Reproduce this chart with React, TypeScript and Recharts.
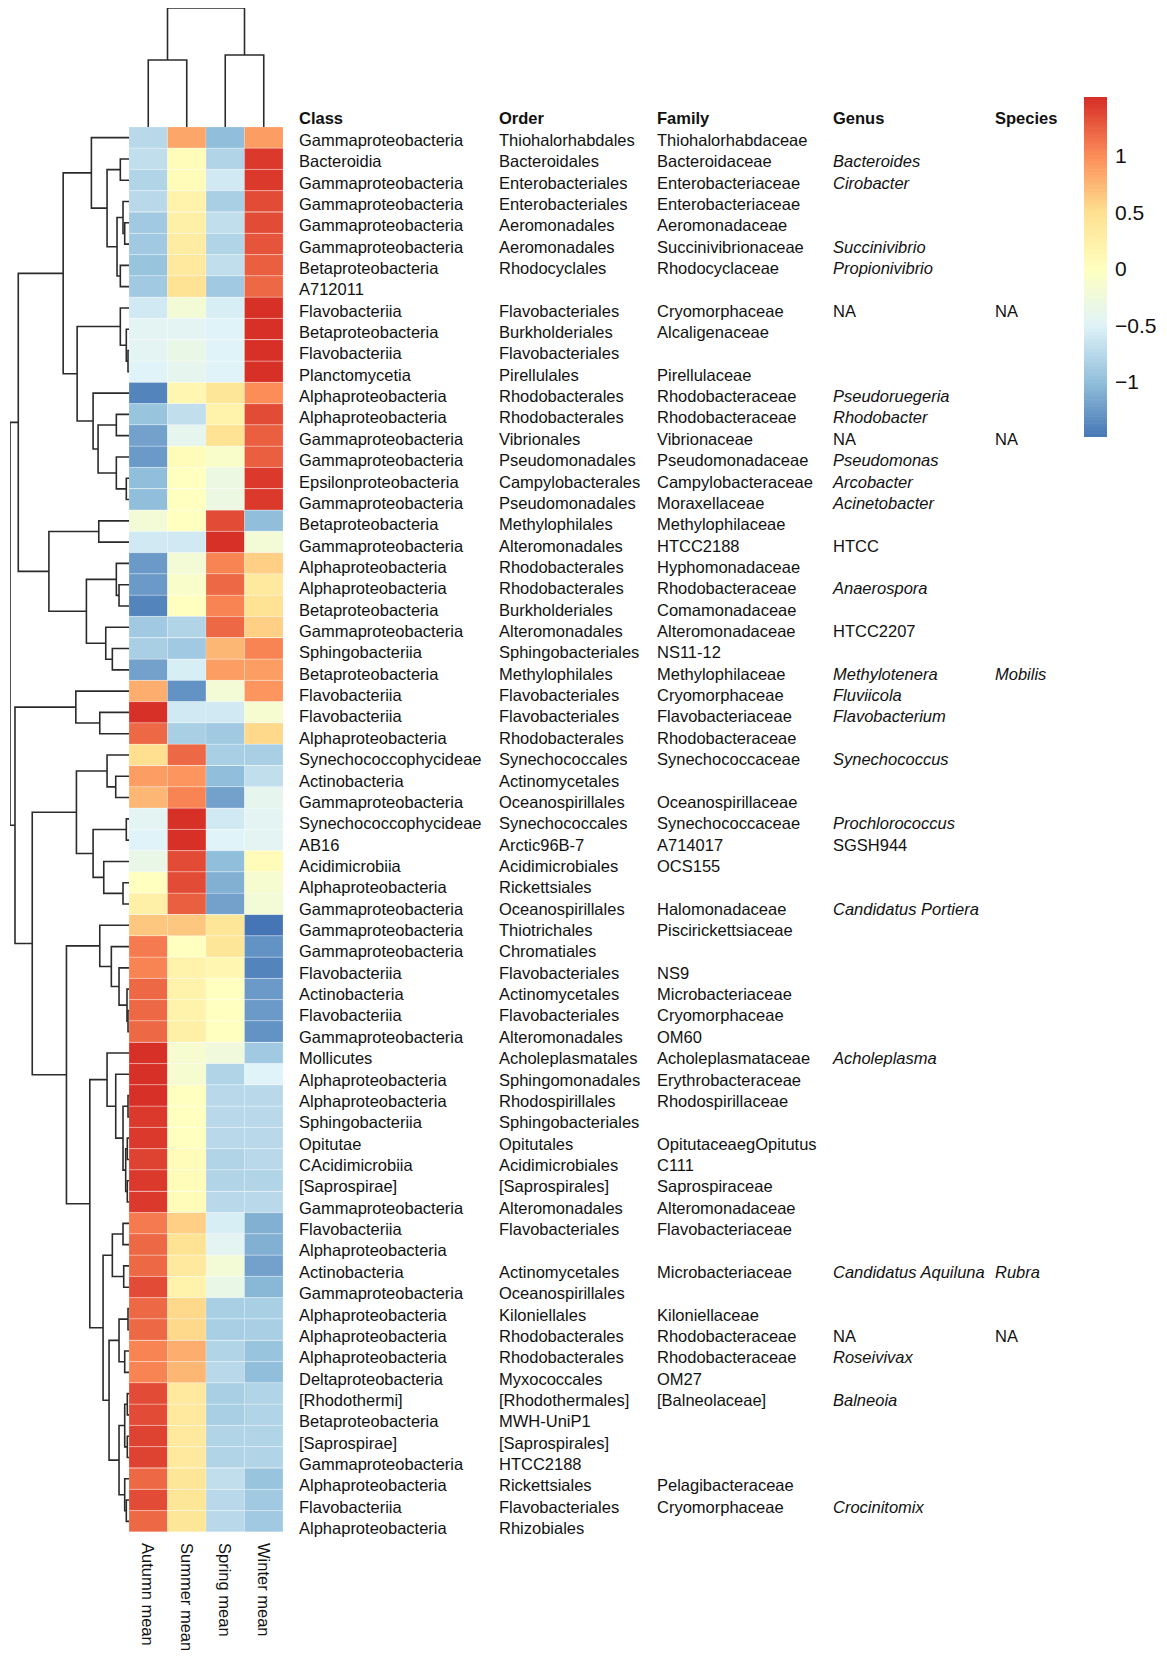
import React from "react";
import {
  BarChart,
  Bar,
  Cell,
  XAxis,
  YAxis,
  ComposedChart,
  Line,
  Scatter,
} from "recharts";

// columns of the heatmap (left to right)
const columns = ["Autumn mean", "Summer mean", "Spring mean", "Winter mean"];

// row-scaled values (rows top to bottom)
const autumn = [
  -0.75, -0.7, -0.8, -0.75, -0.9, -0.9, -0.95, -0.9, -0.6, -0.45, -0.45, -0.5,
  -1.4, -0.95, -1.2, -1.25, -1.0, -1.0, -0.2, -0.6, -1.25, -1.25, -1.4, -0.9,
  -0.85, -1.2, 0.8, 1.5, 1.2, 0.5, 0.9, 0.75, -0.45, -0.5, -0.35, 0.0, 0.25,
  0.65, 1.1, 1.05, 1.2, 1.2, 1.2, 1.5, 1.5, 1.5, 1.45, 1.45, 1.4, 1.45, 1.45,
  1.1, 1.2, 1.2, 1.35, 1.2, 1.2, 1.05, 1.05, 1.35, 1.35, 1.4, 1.4, 1.2, 1.35,
  1.2,
];
const summer = [
  0.85, 0.05, 0.05, 0.2, 0.25, 0.3, 0.35, 0.45, -0.2, -0.45, -0.35, -0.4, 0.15,
  -0.7, -0.4, 0.05, 0.0, 0.0, 0.0, -0.6, -0.2, -0.1, 0.0, -0.8, -0.9, -0.55,
  -1.3, -0.6, -0.85, 1.2, 0.95, 1.05, 1.5, 1.5, 1.35, 1.35, 1.25, 0.65, 0.0,
  0.2, 0.2, 0.2, 0.25, -0.15, -0.15, 0.0, 0.0, 0.0, 0.05, 0.05, 0.05, 0.6,
  0.45, 0.35, 0.2, 0.55, 0.55, 0.8, 0.75, 0.35, 0.35, 0.35, 0.35, 0.4, 0.4,
  0.4,
];
const spring = [
  -1.0, -0.8, -0.6, -0.85, -0.7, -0.8, -0.7, -0.9, -0.55, -0.5, -0.5, -0.5,
  0.4, 0.2, 0.45, -0.1, -0.3, -0.3, 1.35, 1.5, 1.05, 1.2, 1.05, 1.2, 0.75, 0.9,
  -0.2, -0.6, -0.9, -0.85, -1.0, -1.2, -0.6, -0.5, -1.0, -1.1, -1.2, 0.4, 0.4,
  0.15, 0.0, 0.0, 0.0, -0.25, -0.8, -0.75, -0.75, -0.75, -0.8, -0.8, -0.75,
  -0.55, -0.45, -0.2, -0.35, -0.85, -0.85, -0.8, -0.75, -0.85, -0.85, -0.8,
  -0.8, -0.7, -0.75, -0.75,
];
const winter = [
  0.9, 1.45, 1.45, 1.35, 1.35, 1.3, 1.25, 1.2, 1.5, 1.5, 1.5, 1.5, 1.0, 1.35,
  1.25, 1.25, 1.45, 1.45, -1.0, -0.2, 0.6, 0.35, 0.45, 0.6, 1.05, 0.9, 0.95,
  -0.15, 0.55, -0.85, -0.7, -0.4, -0.45, -0.45, 0.05, -0.15, -0.2, -1.5, -1.3,
  -1.4, -1.25, -1.25, -1.3, -0.9, -0.5, -0.75, -0.75, -0.75, -0.75, -0.8,
  -0.75, -1.1, -1.1, -1.2, -1.05, -0.85, -0.85, -0.95, -1.0, -0.8, -0.8, -0.8,
  -0.8, -0.95, -0.9, -0.9,
];

// taxonomy labels, one per row
const classes = [
  "Gammaproteobacteria", "Bacteroidia", "Gammaproteobacteria", "Gammaproteobacteria",
  "Gammaproteobacteria", "Gammaproteobacteria", "Betaproteobacteria", "A712011",
  "Flavobacteriia", "Betaproteobacteria", "Flavobacteriia", "Planctomycetia",
  "Alphaproteobacteria", "Alphaproteobacteria", "Gammaproteobacteria", "Gammaproteobacteria",
  "Epsilonproteobacteria", "Gammaproteobacteria", "Betaproteobacteria", "Gammaproteobacteria",
  "Alphaproteobacteria", "Alphaproteobacteria", "Betaproteobacteria", "Gammaproteobacteria",
  "Sphingobacteriia", "Betaproteobacteria", "Flavobacteriia", "Flavobacteriia",
  "Alphaproteobacteria", "Synechococcophycideae", "Actinobacteria", "Gammaproteobacteria",
  "Synechococcophycideae", "AB16", "Acidimicrobiia", "Alphaproteobacteria",
  "Gammaproteobacteria", "Gammaproteobacteria", "Gammaproteobacteria", "Flavobacteriia",
  "Actinobacteria", "Flavobacteriia", "Gammaproteobacteria", "Mollicutes",
  "Alphaproteobacteria", "Alphaproteobacteria", "Sphingobacteriia", "Opitutae",
  "CAcidimicrobiia", "[Saprospirae]", "Gammaproteobacteria", "Flavobacteriia",
  "Alphaproteobacteria", "Actinobacteria", "Gammaproteobacteria", "Alphaproteobacteria",
  "Alphaproteobacteria", "Alphaproteobacteria", "Deltaproteobacteria", "[Rhodothermi]",
  "Betaproteobacteria", "[Saprospirae]", "Gammaproteobacteria", "Alphaproteobacteria",
  "Flavobacteriia", "Alphaproteobacteria",
];
const orders = [
  "Thiohalorhabdales", "Bacteroidales", "Enterobacteriales", "Enterobacteriales",
  "Aeromonadales", "Aeromonadales", "Rhodocyclales", "",
  "Flavobacteriales", "Burkholderiales", "Flavobacteriales", "Pirellulales",
  "Rhodobacterales", "Rhodobacterales", "Vibrionales", "Pseudomonadales",
  "Campylobacterales", "Pseudomonadales", "Methylophilales", "Alteromonadales",
  "Rhodobacterales", "Rhodobacterales", "Burkholderiales", "Alteromonadales",
  "Sphingobacteriales", "Methylophilales", "Flavobacteriales", "Flavobacteriales",
  "Rhodobacterales", "Synechococcales", "Actinomycetales", "Oceanospirillales",
  "Synechococcales", "Arctic96B-7", "Acidimicrobiales", "Rickettsiales",
  "Oceanospirillales", "Thiotrichales", "Chromatiales", "Flavobacteriales",
  "Actinomycetales", "Flavobacteriales", "Alteromonadales", "Acholeplasmatales",
  "Sphingomonadales", "Rhodospirillales", "Sphingobacteriales", "Opitutales",
  "Acidimicrobiales", "[Saprospirales]", "Alteromonadales", "Flavobacteriales",
  "", "Actinomycetales", "Oceanospirillales", "Kiloniellales",
  "Rhodobacterales", "Rhodobacterales", "Myxococcales", "[Rhodothermales]",
  "MWH-UniP1", "[Saprospirales]", "HTCC2188", "Rickettsiales",
  "Flavobacteriales", "Rhizobiales",
];
const families = [
  "Thiohalorhabdaceae", "Bacteroidaceae", "Enterobacteriaceae", "Enterobacteriaceae",
  "Aeromonadaceae", "Succinivibrionaceae", "Rhodocyclaceae", "",
  "Cryomorphaceae", "Alcaligenaceae", "", "Pirellulaceae",
  "Rhodobacteraceae", "Rhodobacteraceae", "Vibrionaceae", "Pseudomonadaceae",
  "Campylobacteraceae", "Moraxellaceae", "Methylophilaceae", "HTCC2188",
  "Hyphomonadaceae", "Rhodobacteraceae", "Comamonadaceae", "Alteromonadaceae",
  "NS11-12", "Methylophilaceae", "Cryomorphaceae", "Flavobacteriaceae",
  "Rhodobacteraceae", "Synechococcaceae", "", "Oceanospirillaceae",
  "Synechococcaceae", "A714017", "OCS155", "",
  "Halomonadaceae", "Piscirickettsiaceae", "", "NS9",
  "Microbacteriaceae", "Cryomorphaceae", "OM60", "Acholeplasmataceae",
  "Erythrobacteraceae", "Rhodospirillaceae", "", "OpitutaceaegOpitutus",
  "C111", "Saprospiraceae", "Alteromonadaceae", "Flavobacteriaceae",
  "", "Microbacteriaceae", "", "Kiloniellaceae",
  "Rhodobacteraceae", "Rhodobacteraceae", "OM27", "[Balneolaceae]",
  "", "", "", "Pelagibacteraceae",
  "Cryomorphaceae", "",
];
const genera = [
  "", "Bacteroides", "Cirobacter", "", "", "Succinivibrio", "Propionivibrio", "",
  "NA", "", "", "", "Pseudoruegeria", "Rhodobacter", "NA", "Pseudomonas",
  "Arcobacter", "Acinetobacter", "", "HTCC", "", "Anaerospora", "", "HTCC2207",
  "", "Methylotenera", "Fluviicola", "Flavobacterium", "", "Synechococcus", "", "",
  "Prochlorococcus", "SGSH944", "", "", "Candidatus Portiera", "", "", "",
  "", "", "", "Acholeplasma", "", "", "", "",
  "", "", "", "", "", "Candidatus Aquiluna", "", "",
  "NA", "Roseivivax", "", "Balneoia", "", "", "", "",
  "Crocinitomix", "",
];
const species = [
  "", "", "", "", "", "", "", "", "NA", "", "", "", "", "", "NA", "",
  "", "", "", "", "", "", "", "", "", "Mobilis", "", "", "", "", "", "",
  "", "", "", "", "", "", "", "", "", "", "", "", "", "", "", "",
  "", "", "", "", "", "Rubra", "", "", "NA", "", "", "", "", "", "", "",
  "", "",
];

const headers = ["Class", "Order", "Family", "Genus", "Species"];

// row dendrogram: [merge height, left, right], leaves are row numbers
type Node = number | [number, Node, Node];
const rowTree: Node = [11.93,
  [11.1,
    [6.6,
      [3.77, 1, [2.2, [0.87, 2, 3], [1.2, [0.6, 4, [0.43, 5, 6]], [0.87, 7, 8]]]],
      [5.2, [0.87, 9, [0.27, 10, [0.1, 11, 12]]],
        [3.6, 13, [3.1, [1.27, 14, 15], [1.27, 16, [0.27, 17, 18]]]]],
    ],
    [8.03, [3.03, 19, 20], [4.27, [1.27, 21, [1.0, 22, 23]], [2.33, 24, [1.67, 25, 26]]]],
  ],
  [11.43,
    [5.33, 27, [2.93, 28, 29]],
    [9.7,
      [5.27, [2.2, 30, [1.33, 31, 32]], [3.6, [0.27, 33, 34], [2.53, 35, [0.6, 36, 37]]]],
      [6.27,
        [2.93, 38, [1.77, 39, [1.0, 40, [0.2, 41, [0.1, 42, 43]]]]],
        [3.93,
          [2.2, 44, [1.33, 45, [0.6, [0.1, 46, 47], [0.33, [0.17, 48, 49], [0.17, 50, 51]]]]],
          [2.6,
            [1.67, [0.6, 52, 53], [0.53, 54, 55]],
            [2.0,
              [1.0, [0.1, 56, 57], [0.43, 58, 59]],
              [1.0, [0.43, [0.17, 60, 61], [0.17, 62, 63]], [0.43, 64, [0.27, 65, 66]]],
            ],
          ],
        ],
      ],
    ],
  ],
];

// column dendrogram, leaves are column indexes
const colTree: Node = [11.9, [6.7, 0, 1], [7.2, 2, 3]];

const legendTicks = [-1, -0.5, 0, 0.5, 1];
const legendMin = -1.49;
const legendMax = 1.52;

const palette = ["#4575B4", "#91BFDB", "#E0F3F8", "#FFFFBF", "#FEE090", "#FC8D59", "#D73027"];

const hexToRgb = (h: string) => [1, 3, 5].map((i) => parseInt(h.slice(i, i + 2), 16));

function colorFor(v: number) {
  let t = (v + 1.5) / 3;
  t = Math.max(0, Math.min(1, t));
  const pos = t * (palette.length - 1);
  const i = Math.min(Math.floor(pos), palette.length - 2);
  const f = pos - i;
  const a = hexToRgb(palette[i]);
  const b = hexToRgb(palette[i + 1]);
  const c = a.map((x, k) => Math.round(x + (b[k] - x) * f));
  return `rgb(${c[0]},${c[1]},${c[2]})`;
}

type Seg = { a: { pos: number; h: number }; b: { pos: number; h: number }; h: number };

function walk(node: Node, out: Seg[], leafPos: (n: number) => number) {
  if (typeof node === "number") return { pos: leafPos(node), h: 0 };
  const [h, l, r] = node;
  const a = walk(l, out, leafPos);
  const b = walk(r, out, leafPos);
  out.push({ a, b, h });
  return { pos: (a.pos + b.pos) / 2, h };
}

const rowSegs: Seg[] = [];
walk(rowTree, rowSegs, (n) => n);
const colSegs: Seg[] = [];
walk(colTree, colSegs, (n) => n + 0.5);

const heatRows = autumn.map((_, i) => ({ row: String(i + 1), a: 1, s: 1, sp: 1, w: 1 }));
const seriesValues = [autumn, summer, spring, winter];
const seriesKeys = ["a", "s", "sp", "w"];

const labelCols = [classes, orders, families, genera, species];
const labelX = [299, 499, 657, 833, 995];

const FONT = "'Liberation Sans', Arial, Helvetica, sans-serif";
const LINE = "#2b2b2b";

const isItalic = (col: number, s: string) => col >= 3 && s !== "NA" && !/^[A-Z0-9]+$/.test(s);

const RowLabel = (props: any) => {
  const { y, index } = props;
  const ty = y + 2.4 + index * 0.07;
  return (
    <g>
      {labelCols.map((col, j) =>
        col[index] ? (
          <text
            key={j}
            x={labelX[j]}
            y={ty}
            dy="0.35em"
            fontSize={16.5}
            fill="#111"
            fontFamily={FONT}
            fontStyle={isItalic(j, col[index]) ? "italic" : "normal"}
          >
            {col[index]}
          </text>
        ) : null
      )}
    </g>
  );
};

const ColLabel = (props: any) => {
  const { x, index } = props;
  const y0 = 1543;
  return (
    <text
      x={x}
      y={y0}
      dy="0.35em"
      transform={`rotate(90, ${x}, ${y0})`}
      textAnchor="start"
      fontSize={16.5}
      fill="#111"
      fontFamily={FONT}
    >
      {columns[index]}
    </text>
  );
};

// colour key: 100 slices between the legend limits
const SLICES = 100;
const legendSlices = Array.from({ length: SLICES }, (_, i) => {
  const y1 = legendMin + ((legendMax - legendMin) * i) / SLICES;
  const y2 = legendMin + ((legendMax - legendMin) * (i + 1)) / SLICES;
  return { x: 0.5, y: (y1 + y2) / 2 };
});
const LEGEND_W = 23;
const LEGEND_H = 340;

const LegendSlice = (props: any) => {
  const { cx, cy, payload } = props;
  const h = LEGEND_H / SLICES;
  return (
    <rect
      x={cx - LEGEND_W / 2}
      y={cy - h / 2 - 0.3}
      width={LEGEND_W}
      height={h + 0.6}
      fill={colorFor(payload.y)}
    />
  );
};

export default function App() {
  return (
    <div
      style={{
        position: "relative",
        width: 1167,
        height: 1661,
        overflow: "hidden",
        background: "#fff",
        fontFamily: FONT,
      }}
    >
      <style>{"body{margin:0}"}</style>

      {/* heatmap + row labels */}
      <div style={{ position: "absolute", left: 0, top: 0 }}>
        <BarChart
          width={1167}
          height={1661}
          data={heatRows}
          layout="vertical"
          barCategoryGap={0}
          barGap={0}
          margin={{ top: 127, right: 0, bottom: 0, left: 129 }}
        >
          <XAxis
            type="number"
            domain={[0, 4]}
            ticks={[0.5, 1.5, 2.5, 3.5]}
            interval={0}
            height={129}
            tickLine={false}
            axisLine={false}
            tick={<ColLabel />}
          />
          <YAxis
            type="category"
            dataKey="row"
            orientation="right"
            width={884}
            interval={0}
            tickLine={false}
            axisLine={false}
            tick={<RowLabel />}
          />
          {seriesKeys.map((k, j) => (
            <Bar
              key={k}
              dataKey={k}
              stackId="heat"
              isAnimationActive={false}
              stroke="rgba(255,255,255,0.3)"
              strokeWidth={0.6}
            >
              {heatRows.map((_, i) => (
                <Cell key={i} fill={colorFor(seriesValues[j][i])} />
              ))}
            </Bar>
          ))}
        </BarChart>
      </div>

      {/* label headers */}
      {headers.map((h, j) => (
        <div
          key={h}
          style={{
            position: "absolute",
            left: labelX[j],
            top: 108,
            lineHeight: "20px",
            fontSize: 16.5,
            fontWeight: "bold",
            color: "#111",
          }}
        >
          {h}
        </div>
      ))}

      {/* row dendrogram */}
      <div style={{ position: "absolute", left: 10, top: 127 }}>
        <ComposedChart width={119} height={1405} margin={{ top: 0, right: 0, bottom: 0, left: 0 }}>
          <XAxis type="number" dataKey="x" domain={[0, 11.93]} reversed hide />
          <YAxis type="number" domain={[0.5, 66.5]} reversed hide />
          {rowSegs.map((s, i) => (
            <Line
              key={i}
              data={[
                { x: s.a.h, y: s.a.pos },
                { x: s.h, y: s.a.pos },
                { x: s.h, y: s.b.pos },
                { x: s.b.h, y: s.b.pos },
              ]}
              dataKey="y"
              stroke={LINE}
              strokeWidth={1.6}
              dot={false}
              activeDot={false}
              isAnimationActive={false}
            />
          ))}
        </ComposedChart>
      </div>

      {/* column dendrogram */}
      <div style={{ position: "absolute", left: 129, top: 8 }}>
        <ComposedChart width={154} height={119} margin={{ top: 0, right: 0, bottom: 0, left: 0 }}>
          <XAxis type="number" dataKey="x" domain={[0, 4]} hide />
          <YAxis type="number" domain={[0, 11.9]} hide />
          {colSegs.map((s, i) => (
            <Line
              key={i}
              data={[
                { x: s.a.pos, y: s.a.h },
                { x: s.a.pos, y: s.h },
                { x: s.b.pos, y: s.h },
                { x: s.b.pos, y: s.b.h },
              ]}
              dataKey="y"
              stroke={LINE}
              strokeWidth={1.6}
              dot={false}
              activeDot={false}
              isAnimationActive={false}
            />
          ))}
        </ComposedChart>
      </div>

      {/* colour legend */}
      <div style={{ position: "absolute", left: 1084, top: 97 }}>
        <ComposedChart width={83} height={LEGEND_H} margin={{ top: 0, right: 0, bottom: 0, left: 0 }}>
          <XAxis type="number" dataKey="x" domain={[0, 1]} hide />
          <YAxis
            type="number"
            dataKey="y"
            domain={[legendMin, legendMax]}
            ticks={legendTicks}
            orientation="right"
            width={60}
            tickLine={false}
            axisLine={false}
            tickSize={0}
            tickMargin={8}
            tick={{ fontSize: 21, fill: "#111", fontFamily: FONT }}
            tickFormatter={(v: number) => String(v).replace("-", "\u2212")}
          />
          <Scatter data={legendSlices} shape={<LegendSlice />} isAnimationActive={false} />
        </ComposedChart>
      </div>
    </div>
  );
}
